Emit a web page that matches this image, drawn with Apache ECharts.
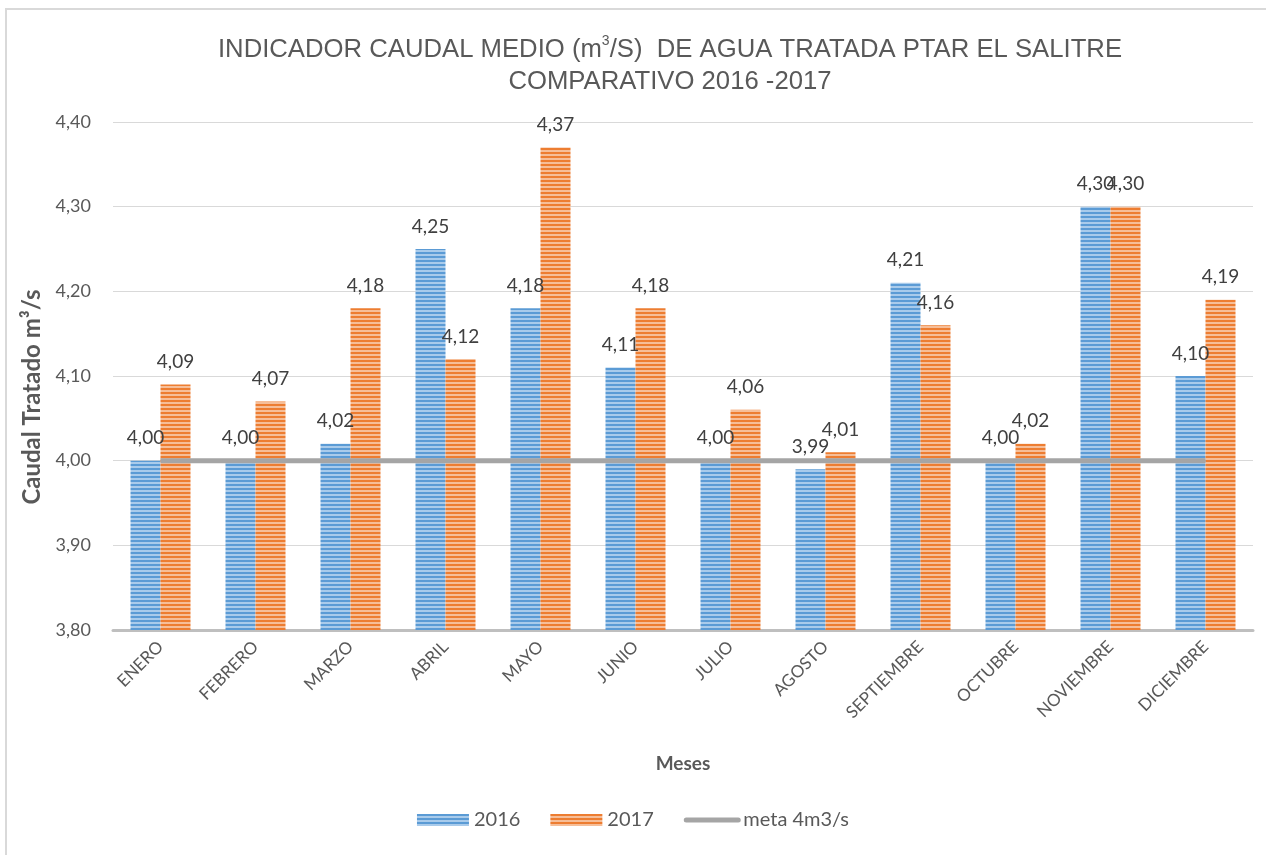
<!DOCTYPE html>
<html>
<head>
<meta charset="utf-8">
<title>Caudal medio PTAR El Salitre</title>
<script src="https://cdn.jsdelivr.net/npm/echarts@6/dist/echarts.min.js"></script>
<style>
  html, body { margin: 0; padding: 0; background: #fff; }
  #chart { width: 1266px; height: 855px; }
</style>
</head>
<body>
<div id="chart"></div>
<script>
const months = ['ENERO', 'FEBRERO', 'MARZO', 'ABRIL', 'MAYO', 'JUNIO', 'JULIO', 'AGOSTO', 'SEPTIEMBRE', 'OCTUBRE', 'NOVIEMBRE', 'DICIEMBRE']
const caudal2016 = [4.00, 4.00, 4.02, 4.25, 4.18, 4.11, 4.00, 3.99, 4.21, 4.00, 4.30, 4.10]
const caudal2017 = [4.09, 4.07, 4.18, 4.12, 4.37, 4.18, 4.06, 4.01, 4.16, 4.02, 4.30, 4.19]
const meta = [4, 4, 4, 4, 4, 4, 4, 4, 4, 4, 4, 4]

// rayas horizontales como en excel
function stripes (dark, light) {
  const c = document.createElement('canvas')
  c.width = 4
  c.height = 4
  const ctx = c.getContext('2d')
  ctx.fillStyle = light
  ctx.fillRect(0, 0, 4, 4)
  ctx.fillStyle = dark
  ctx.fillRect(0, 0, 4, 2)
  return { image: c, repeat: 'repeat' }
}

const fmt = p => p.value.toFixed(2).replace('.', ',')
const font = 'Lato, "Noto Sans", sans-serif'
const narrow = '"Liberation Sans Narrow", "Liberation Sans", sans-serif'

const chart = echarts.init(document.getElementById('chart'))
chart.setOption({
  animation: false,
  textStyle: { fontFamily: font },
  graphic: [
    {
      type: 'rect',
      shape: { x: 6, y: 9, width: 1270, height: 900 },
      style: { fill: 'none', stroke: '#D9D9D9', lineWidth: 2 },
      silent: true
    },
    {
      // titulo eje y
      type: 'text',
      x: 32,
      y: 397,
      rotation: Math.PI / 2,
      style: {
        text: 'Caudal Tratado m³/s',
        font: 'bold 24px ' + font,
        fill: '#595959',
        align: 'center',
        verticalAlign: 'middle'
      },
      silent: true
    }
  ],
  title: {
    text: '{t|INDICADOR CAUDAL MEDIO (m}{s|3}{t|/S)  DE AGUA TRATADA PTAR EL SALITRE}\n{t|COMPARATIVO 2016 -2017}',
    left: 665,
    top: 29,
    textAlign: 'center',
    textStyle: {
      fontWeight: 'normal',
      rich: {
        t: { fontFamily: narrow, fontWeight: 'normal', fontSize: 25.7, color: '#595959', lineHeight: 32, align: 'center' },
        s: { fontFamily: narrow, fontWeight: 'normal', fontSize: 14, color: '#595959', verticalAlign: 'top', padding: [0, 0, 12, 0] }
      }
    }
  },
  legend: {
    bottom: 20,
    left: 'center',
    itemWidth: 52,
    itemHeight: 12,
    itemGap: 30,
    textStyle: { fontSize: 20, color: '#595959', fontFamily: font },
    data: [
      { name: '2016', icon: 'rect' },
      { name: '2017', icon: 'rect' },
      { name: 'meta 4m3/s', itemStyle: { opacity: 0 }, lineStyle: { width: 5, cap: 'round' } }
    ]
  },
  grid: { left: 113, right: 13, top: 122, bottom: 225 },
  xAxis: {
    type: 'category',
    data: months,
    name: 'Meses',
    nameLocation: 'middle',
    nameGap: 124,
    nameTextStyle: { fontSize: 19, fontWeight: 'bold', color: '#595959' },
    axisLine: { lineStyle: { color: '#BFBFBF', width: 3 } },
    axisTick: { show: false },
    axisLabel: { rotate: 45, fontSize: 17, color: '#595959', margin: 14, interval: 0 }
  },
  yAxis: {
    type: 'value',
    min: 3.8,
    max: 4.4,
    interval: 0.1,
    axisLine: { show: false },
    axisTick: { show: false },
    axisLabel: { fontSize: 18, color: '#595959', margin: 22, formatter: v => v.toFixed(2).replace('.', ',') },
    splitLine: { lineStyle: { color: '#D9D9D9', width: 1 } }
  },
  series: [
    {
      name: '2016',
      type: 'bar',
      data: caudal2016,
      barWidth: 30,
      barGap: '0%',
      itemStyle: { color: stripes('#5B9BD5', '#A9CBEB') },
      label: { show: true, position: 'top', distance: 13, fontSize: 19, color: '#404040', formatter: fmt }
    },
    {
      name: '2017',
      type: 'bar',
      data: caudal2017,
      barWidth: 30,
      itemStyle: { color: stripes('#ED7D31', '#F6BE98') },
      label: { show: true, position: 'top', distance: 13, fontSize: 19, color: '#404040', formatter: fmt }
    },
    {
      name: 'meta 4m3/s',
      type: 'line',
      data: meta,
      symbol: 'none',
      z: 5,
      itemStyle: { color: '#A5A5A5' },
      lineStyle: { color: '#A5A5A5', width: 5 }
    }
  ]
})
</script>
</body>
</html>
